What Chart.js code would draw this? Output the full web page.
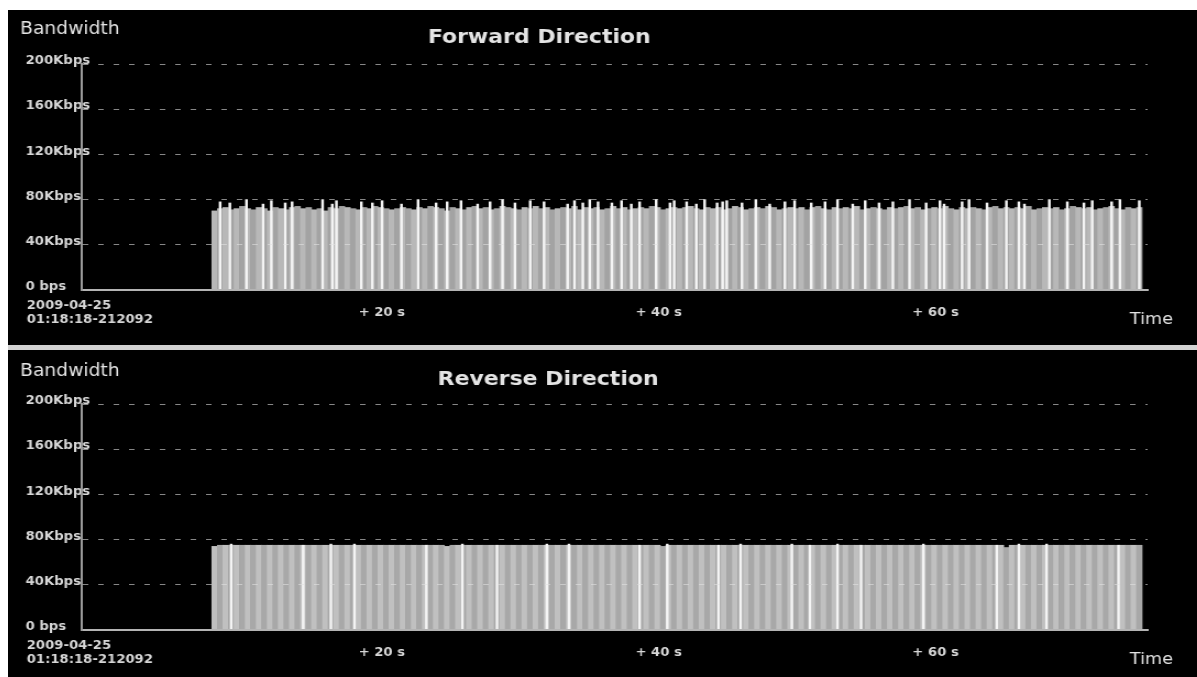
<!DOCTYPE html>
<html>
<head>
<meta charset="utf-8">
<script src="https://cdn.jsdelivr.net/npm/chart.js@4.4.1/dist/chart.umd.min.js"></script>
<style>
  html, body { margin: 0; padding: 0; background: #fff; width: 1197px; height: 677px; overflow: hidden; }
  #screen { position: absolute; left: 8px; top: 10px; width: 1189px; height: 667px; background: #000; overflow: hidden; }
  .panel { position: absolute; left: 0; width: 1081px; height: 335px; transform: scaleX(1.1); transform-origin: 0 0; }
  #p1 { top: 0; }
  #p2 { top: 340px; }
  #rule { position: absolute; left: 0; top: 335px; width: 1189px; height: 5px; background: #d2d2d2; }
  canvas { display: block; }
</style>
</head>
<body>
<div id="screen">
  <div class="panel" id="p1"><canvas id="fwd" width="1081" height="335"></canvas></div>
  <div id="rule"></div>
  <div class="panel" id="p2"><canvas id="rev" width="1081" height="335"></canvas></div>
</div>
<script>
// Time axis: seconds since the capture start
const originLabel = ['2009-04-25', '01:18:18-212092'];
const timeTicksSec = [20, 40, 60];
const bandwidthTicksKbps = [0, 40, 80, 120, 160, 200];

// Throughput samples, one every 0.4 s starting at 9.4 s
const sampleStartSec = 9.4;
const sampleStepSec = 0.4;

const forwardKbps = [
  70,72,73,71,72,74,72,71,73,72,70,73,
  72,71,73,74,72,73,71,72,70,73,72,74,
  73,72,71,73,72,74,73,72,71,72,73,72,
  71,73,72,74,73,72,70,73,72,71,73,74,
  72,73,71,72,74,73,72,71,73,72,74,72,
  73,71,72,73,72,74,71,73,72,73,71,72,
  74,72,73,71,72,73,72,74,73,71,72,73,
  72,73,74,72,71,73,72,73,71,72,74,73,
  71,72,73,72,74,73,71,72,73,72,73,71,
  73,74,72,71,73,72,73,72,74,71,72,73,
  72,71,73,72,73,74,72,73,71,72,73,72,
  74,72,71,73,72,73,72,71,73,74,72,73,
  72,73,72,74,71,72,73,72,73,71,72,74,
  73,72,73,71,72,73,74,72,71,73,72,73
];

const reverseKbps = [
  74,75,75,75,75,75,75,75,75,75,75,75,
  75,75,75,75,75,75,75,75,75,75,75,75,
  75,75,75,75,75,75,75,75,75,75,75,75,
  75,75,75,75,75,75,74,75,75,75,75,75,
  75,75,75,75,75,75,75,75,75,75,75,75,
  75,75,75,75,75,75,75,75,75,75,75,75,
  75,75,75,75,75,75,75,75,75,74,75,75,
  75,75,75,75,75,75,75,75,75,75,75,75,
  75,75,75,75,75,75,75,75,75,75,75,75,
  75,75,75,75,75,75,75,75,75,75,75,75,
  75,75,75,75,75,75,75,75,75,75,75,75,
  75,75,75,75,75,75,75,75,75,75,75,73,
  75,75,75,75,75,75,75,75,75,75,75,75,
  75,75,75,75,75,75,75,75,75,75,75,75
];

// Burst peaks (instant rate at individual packets)
const forwardPeakSec = [
  10.0,10.7,11.9,13.1,13.7,14.7,15.2,17.4,18.1,18.4,
  20.2,21.0,21.7,23.1,24.3,25.6,26.4,27.4,28.6,29.5,
  30.4,31.3,32.4,33.4,35.1,35.6,36.2,36.7,37.3,38.3,
  39.0,39.7,40.3,41.5,42.5,42.8,43.7,44.4,45.0,45.9,
  46.3,46.6,47.7,48.7,49.7,50.8,51.5,52.7,53.7,54.6,
  55.7,56.6,57.6,58.6,59.8,61.0,62.0,62.3,63.6,64.1,
  65.4,66.8,67.7,68.1,69.9,71.2,72.4,73.0,74.4,75.0,
  76.4
];
const forwardPeakKbps = [
  78,77,80,76,79,77,78,80,76,79,
  78,77,79,76,80,77,78,79,76,78,
  80,77,79,78,76,79,77,80,78,77,
  79,76,78,80,77,79,78,76,80,77,
  78,79,77,80,76,78,79,77,78,80,
  76,79,77,78,80,77,79,76,78,80,
  77,79,78,76,80,78,77,79,78,80,
  79
];

const reversePeakSec = [
  10.8,16.0,18.0,19.7,24.9,27.5,30.0,33.6,35.2,40.3,
  42.3,46.0,47.6,51.3,52.6,54.6,56.3,60.8,66.1,67.7,
  69.7,74.9
];
const reversePeakKbps = [
  76,75,76,76,75,76,75,76,76,75,
  76,75,76,76,75,76,75,76,75,76,
  76,75
];

// Captions, titles and the origin timestamp
const panelText = {
  id: 'panelText',
  afterDraw(chart, args, o) {
    const c = chart.ctx;
    c.save();
    c.textBaseline = 'middle';
    c.fillStyle = '#e4e4e4';
    c.font = '17px "DejaVu Sans"';
    c.textAlign = 'left';
    c.fillText('Bandwidth', 11, o.captionY);
    c.font = 'bold 20px "DejaVu Sans"';
    c.textAlign = 'center';
    c.fillText(o.title, o.titleX, o.titleY);
    c.font = '16px "DejaVu Sans"';
    c.textAlign = 'right';
    c.fillText('Time', 1059, 310);
    c.fillStyle = '#d6d6d6';
    c.font = 'bold 12px "DejaVu Sans"';
    c.textAlign = 'left';
    originLabel.forEach((line, i) => c.fillText(line, 17, 296 + i * 14));
    c.restore();
  }
};

function makePanel(canvasId, text, barValues, peakSec, peakKbps, shades) {
  const bars = barValues.map((v, i) => ({ x: sampleStartSec + sampleStepSec * (i + 0.5), y: v }));
  const peaks = peakSec.map((t, i) => ({ x: t, y: peakKbps[i] }));
  return new Chart(document.getElementById(canvasId), {
    type: 'bar',
    data: {
      datasets: [
        {
          data: peaks,
          backgroundColor: '#f4f4f4',
          barThickness: 1.8,
          grouped: false,
          order: 0
        },
        {
          data: bars,
          backgroundColor: bars.map((_, i) => shades[i % 2]),
          barThickness: 5.1,
          grouped: false,
          order: 1
        }
      ]
    },
    options: {
      responsive: false,
      animation: false,
      events: [],
      layout: { padding: { left: 16, top: 54, right: 45, bottom: 0 } },
      plugins: {
        legend: { display: false },
        tooltip: { enabled: false },
        panelText: text
      },
      scales: {
        x: {
          type: 'linear',
          offset: false,
          min: 0,
          max: 77,
          afterFit(s) { s.height = 55; },
          afterBuildTicks(s) { s.ticks = timeTicksSec.map(v => ({ value: v })); },
          grid: { display: false, drawTicks: false, offset: false },
          border: { display: true, color: '#b4b4b4', width: 2, z: 1 },
          ticks: {
            align: 'start',
            padding: 16,
            color: '#d6d6d6',
            font: { family: 'DejaVu Sans', size: 12, weight: 'bold' },
            maxRotation: 0,
            autoSkip: false,
            callback: v => '+ ' + v + ' s'
          }
        },
        y: {
          min: 0,
          max: 200,
          afterFit(s) { s.width = 51; },
          afterBuildTicks(s) { s.ticks = bandwidthTicksKbps.map(v => ({ value: v })); },
          grid: {
            drawTicks: false,
            z: 1,
            lineWidth: 1,
            color: c => (c.tick && c.tick.value === 0) ? 'rgba(0,0,0,0)' : 'rgba(225,225,225,0.6)'
          },
          border: { display: true, color: '#9a9a9a', width: 2, dash: [5, 9], z: 1 },
          ticks: {
            mirror: true,
            crossAlign: 'near',
            padding: -51,
            labelOffset: -3,
            color: '#d6d6d6',
            font: { family: 'DejaVu Sans', size: 12, weight: 'bold' },
            callback: v => v === 0 ? '0 bps' : v + 'Kbps'
          }
        }
      }
    },
    plugins: [panelText]
  });
}

makePanel('fwd', { title: 'Forward Direction', titleX: 483, titleY: 28, captionY: 20 },
  forwardKbps, forwardPeakSec, forwardPeakKbps, ['#b8b8b8', '#a3a3a3']);
makePanel('rev', { title: 'Reverse Direction', titleX: 491, titleY: 30, captionY: 22 },
  reverseKbps, reversePeakSec, reversePeakKbps, ['#c0c0c0', '#a8a8a8']);
</script>
</body>
</html>
